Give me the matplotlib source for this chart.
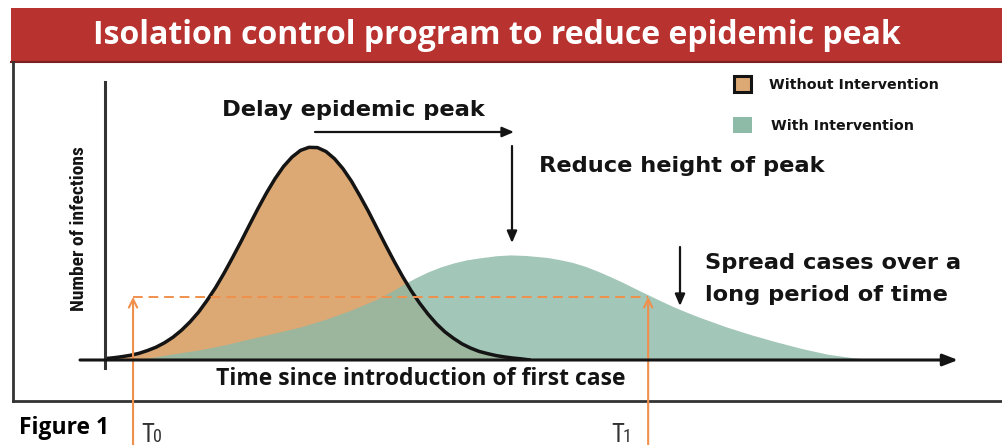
import matplotlib
matplotlib.use("Agg")
import matplotlib.pyplot as plt
from matplotlib.patches import Rectangle
from matplotlib import font_manager

# ---------------- data (time units 0..100, infections 0..100) ----------------
t_without = [0, 1, 2, 3, 4, 5, 6, 7, 8, 9, 10, 11, 12, 13, 14, 15, 16, 17, 18, 19,
             20, 21, 22, 23, 24, 25, 26, 27, 28, 29, 30, 31, 32, 33, 34, 35, 36, 37,
             38, 39, 40, 41, 42, 43, 44, 45, 46, 47, 48, 49, 50]
v_without = [0.5, 0.8, 1.2, 1.7, 2.4, 3.4, 4.6, 6.2, 8.2, 10.7, 13.7, 17.2, 21.4,
             26.0, 31.2, 36.8, 42.6, 48.6, 54.5, 60.1, 65.2, 69.6, 73.0, 75.4, 76.5,
             76.4, 75.0, 72.4, 68.8, 64.3, 59.0, 53.4, 47.4, 41.4, 35.6, 30.1, 25.0,
             20.5, 16.5, 13.0, 10.1, 7.8, 5.8, 4.3, 3.1, 2.3, 1.6, 1.1, 0.7, 0.4, 0.0]

t_with = [3, 5, 8, 11, 14, 17, 20, 23, 26, 29, 32, 33.5, 35, 36.5, 38, 39.5, 41,
          42.5, 44, 46, 47.7, 49.5, 52, 53.5, 55, 56.5, 58, 59.5, 61, 62.5, 64,
          65.5, 67, 68.5, 70, 73, 76, 79, 82, 85, 88, 91]
v_with = [0.0, 0.7, 2.2, 3.6, 5.4, 7.6, 9.7, 11.9, 14.7, 18.0, 21.9, 24.3, 27.0,
          29.5, 31.7, 33.5, 34.9, 36.0, 36.7, 37.5, 37.8, 37.6, 36.9, 36.1, 35.1,
          33.7, 31.9, 29.9, 27.8, 25.5, 23.3, 21.1, 19.0, 17.1, 15.3, 12.0, 9.1,
          6.5, 4.1, 2.1, 0.8, 0.0]

t0_time = 3.3
t1_time = 63.9
threshold = 22.7

title = "Isolation control program to reduce epidemic peak"
legend_labels = ["Without Intervention", "With Intervention"]
xlabel = "Time since introduction of first case"
ylabel = "Number of infections"

# ---------------- fonts ----------------
names = {f.name for f in font_manager.fontManager.ttflist}
narrow = None
narrow_stretch = "normal"
for cand in ["Liberation Sans Narrow", "Roboto Condensed", "Open Sans Condensed",
             "Arial Narrow", "DejaVu Sans Condensed"]:
    if cand in names:
        narrow = cand
        break
if narrow is None:
    for f in font_manager.fontManager.ttflist:
        if f.name == "DejaVu Sans" and f.stretch in ("condensed", "semi-condensed"):
            narrow = "DejaVu Sans"
            narrow_stretch = "condensed"
            break
if narrow is None:
    narrow = "Liberation Sans"

open_sans = ["Open Sans", "DejaVu Sans"]
wide = ["DejaVu Sans"]

# ---------------- style ----------------
W, H = 1003, 445
orange = "#DCA873"
green = "#8EBAA8"
dash_col = "#F0904C"
dark = "#141414"

fig = plt.figure(figsize=(W / 100, H / 100), dpi=100)

ov = fig.add_axes([0, 0, 1, 1], zorder=0)
ov.set_xlim(0, W)
ov.set_ylim(H, 0)
ov.axis("off")

x0p, x1p, ybp, ytp = 105, 955, 360, 82
ax = fig.add_axes([x0p / W, 1 - ybp / H, (x1p - x0p) / W, (ybp - ytp) / H], zorder=1)
ax.set_xlim(0, 100)
ax.set_ylim(0, 100)
ax.axis("off")
ax.patch.set_alpha(0)

top = fig.add_axes([0, 0, 1, 1], zorder=2)
top.set_xlim(0, W)
top.set_ylim(H, 0)
top.axis("off")
top.patch.set_alpha(0)

# banner
ov.add_patch(Rectangle((11, 8), W - 11, 54, facecolor="#B8322F", edgecolor="none"))
ov.plot([11, W], [62, 62], color="#7A2020", lw=1.5)
ov.text(497, 36, title, color="white", fontsize=23, fontweight="bold",
        family=open_sans, ha="center", va="center")

# frame
ov.plot([13, 13], [62, 401], color="#333333", lw=2)
ov.plot([13, W], [401, 401], color="#333333", lw=2)

# curves
ax.fill_between(t_without, v_without, 0, color=orange, lw=0, zorder=1)
ax.fill_between(t_with, v_with, 0, color=green, alpha=0.82, lw=0, zorder=2)
ax.plot(t_without, v_without, color=dark, lw=2.5, zorder=3,
        solid_capstyle="round", solid_joinstyle="round")

# axes lines
top.plot([105, 105], [82, 368], color="#333333", lw=2.2)
top.annotate("", xy=(958, 360), xytext=(80, 360),
             arrowprops=dict(arrowstyle="-|>,head_length=0.9,head_width=0.35",
                             color=dark, lw=2.2, shrinkA=0, shrinkB=0))

# axis labels
top.text(79, 229, ylabel, rotation=90, fontsize=14 if narrow != "Liberation Sans" else 11.5,
         fontweight="bold", family=[narrow, "DejaVu Sans"], fontstretch=narrow_stretch,
         ha="center", va="center", color=dark)
top.text(421, 379, xlabel, fontsize=16.5, fontweight="bold", family=open_sans,
         ha="center", va="center", color=dark)

# annotations
ann_fs = 16.2
top.text(222, 110, "Delay epidemic peak", fontsize=ann_fs, fontweight="bold",
         family=wide, ha="left", va="center", color=dark)
top.annotate("", xy=(514, 132), xytext=(315, 132),
             arrowprops=dict(arrowstyle="-|>,head_length=0.7,head_width=0.3",
                             color=dark, lw=1.6, shrinkA=0, shrinkB=0))
top.annotate("", xy=(512, 243), xytext=(512, 146),
             arrowprops=dict(arrowstyle="-|>,head_length=0.7,head_width=0.3",
                             color=dark, lw=1.6, shrinkA=0, shrinkB=0))
top.text(539, 166, "Reduce height of peak", fontsize=ann_fs, fontweight="bold",
         family=wide, ha="left", va="center", color=dark)
top.annotate("", xy=(680, 306), xytext=(680, 247),
             arrowprops=dict(arrowstyle="-|>,head_length=0.7,head_width=0.3",
                             color=dark, lw=1.6, shrinkA=0, shrinkB=0))
top.text(705, 263, "Spread cases over a", fontsize=ann_fs, fontweight="bold",
         family=wide, ha="left", va="center", color=dark)
top.text(705, 295, "long period of time", fontsize=ann_fs, fontweight="bold",
         family=wide, ha="left", va="center", color=dark)

# legend
top.add_patch(Rectangle((734, 76), 17, 16, facecolor=orange, edgecolor=dark, lw=2.2))
top.text(769, 85, legend_labels[0], fontsize=10.3, fontweight="bold", family=wide,
         ha="left", va="center", color=dark)
top.add_patch(Rectangle((733, 117), 19, 16, facecolor=green, edgecolor="none"))
top.text(771, 126, legend_labels[1], fontsize=10.3, fontweight="bold", family=wide,
         ha="left", va="center", color=dark)

# threshold dashed line and T arrows (data coordinates)
ax.plot([t0_time, t1_time], [threshold, threshold], color=dash_col, lw=1.4,
        dashes=(5, 3), zorder=4)
for tt in (t0_time, t1_time):
    ax.annotate("", xy=(tt, threshold), xytext=(tt, -31),
                arrowprops=dict(arrowstyle="->,head_length=0.6,head_width=0.3",
                                color=dash_col, lw=1.5, shrinkA=0, shrinkB=0),
                annotation_clip=False, zorder=5)

# T labels
t_fam = [narrow, "DejaVu Sans"]
t_big = 18 if narrow != "Liberation Sans" else 15
t_small = 13 if narrow != "Liberation Sans" else 11
for xp, sub in ((141, "0"), (611, "1")):
    top.text(xp, 442, "T", fontsize=t_big, family=t_fam, fontstretch=narrow_stretch,
             ha="left", va="baseline", color="#333333")
    top.text(xp + 12, 442, sub, fontsize=t_small, family=t_fam, fontstretch=narrow_stretch,
             ha="left", va="baseline", color="#333333")

top.text(19, 428, "Figure 1", fontsize=16.5, fontweight="bold", family=open_sans,
         ha="left", va="center", color="black")

fig.savefig("out.png", dpi=100)
